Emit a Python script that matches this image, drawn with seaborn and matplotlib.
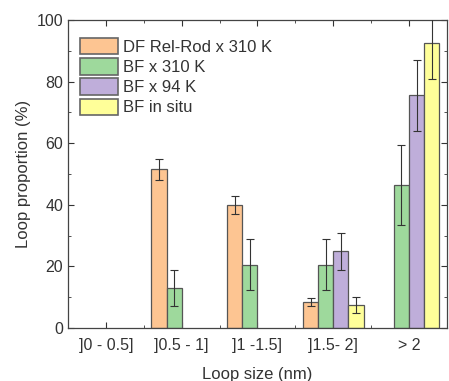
import numpy as np
import pandas as pd
import matplotlib
matplotlib.use("Agg")
import matplotlib.pyplot as plt
from matplotlib.ticker import MultipleLocator, FixedLocator
from matplotlib.patches import Patch
import seaborn as sns

categories = [']0 - 0.5]', ']0.5 - 1]', ']1 -1.5]', ']1.5- 2]', '> 2']
series = ['DF Rel-Rod x 310 K', 'BF x 310 K', 'BF x 94 K', 'BF in situ']
df_relrod = [np.nan, 51.5, 40.0, 8.5, np.nan]
df_relrod_err = [np.nan, 3.5, 3.0, 1.2, np.nan]
bf_310 = [np.nan, 13.0, 20.5, 20.5, 46.5]
bf_310_err = [np.nan, 6.0, 8.3, 8.3, 13.0]
bf_94 = [np.nan, np.nan, np.nan, 25.0, 75.5]
bf_94_err = [np.nan, np.nan, np.nan, 6.0, 11.5]
bf_insitu = [np.nan, np.nan, np.nan, 7.5, 92.5]
bf_insitu_err = [np.nan, np.nan, np.nan, 2.5, 11.5]
colors = ['#FDC592', '#9ED99C', '#BFAEDA', '#FFFF99']

values = [df_relrod, bf_310, bf_94, bf_insitu]
errors = [df_relrod_err, bf_310_err, bf_94_err, bf_insitu_err]

rows = []
for s, vals, errs in zip(series, values, errors):
    for c, v, e in zip(categories, vals, errs):
        rows.append({'size': c, 'series': s, 'value': v, 'err': e})
data = pd.DataFrame(rows)

sns.set_style("ticks")
plt.rcParams['font.family'] = ['Liberation Sans', 'DejaVu Sans']

fig = plt.figure(figsize=(4.49, 3.81), dpi=100)
ax = fig.add_axes([0.1514, 0.139, 0.8440, 0.8085])

plot_data = data.dropna(subset=['value'])
sns.barplot(data=plot_data, x='size', y='value', hue='series', order=categories,
            hue_order=series, palette=colors, errorbar=None, width=0.8,
            edgecolor='#555555', linewidth=0.9, saturation=1, ax=ax, legend=False)

# error bars
n = len(series)
w = 0.8 / n
for i, (vals, errs) in enumerate(zip(values, errors)):
    for j, (v, e) in enumerate(zip(vals, errs)):
        if np.isnan(v):
            continue
        xpos = j - 0.4 + w * (i + 0.5)
        ax.errorbar(xpos, v, yerr=e, fmt='none', ecolor='#333333',
                    elinewidth=0.8, capsize=3, capthick=0.8, zorder=5)

ax.set_xlim(-0.5, 4.5)
ax.set_ylim(0, 100)
ax.yaxis.set_major_locator(MultipleLocator(20))
ax.yaxis.set_minor_locator(MultipleLocator(10))
ax.xaxis.set_minor_locator(FixedLocator([0.5, 1.5, 2.5, 3.5]))
ax.tick_params(which='both', direction='in', top=True, right=True,
               labelsize=11.5, color='#333333', labelcolor='#333333')
ax.tick_params(which='major', length=4)
ax.tick_params(which='minor', length=2.5)
ax.tick_params(axis='x', which='major', pad=7)
for sp in ax.spines.values():
    sp.set_visible(True)
    sp.set_color('#444444')
    sp.set_linewidth(0.9)

ax.set_xlabel('Loop size (nm)', fontsize=12, color='#333333', labelpad=10)
ax.set_ylabel('Loop proportion (%)', fontsize=12, color='#333333', labelpad=4)

handles = [Patch(facecolor=c, edgecolor='#666666', linewidth=1.2) for c in colors]
leg = ax.legend(handles, series, loc='upper left', frameon=False, fontsize=12,
                handlelength=2.3, handleheight=1.15, handletextpad=0.3,
                labelspacing=0.2, borderaxespad=0.3, bbox_to_anchor=(0.0, 0.98))
for t in leg.get_texts():
    t.set_color('#333333')

fig.savefig('out.png', dpi=100)
